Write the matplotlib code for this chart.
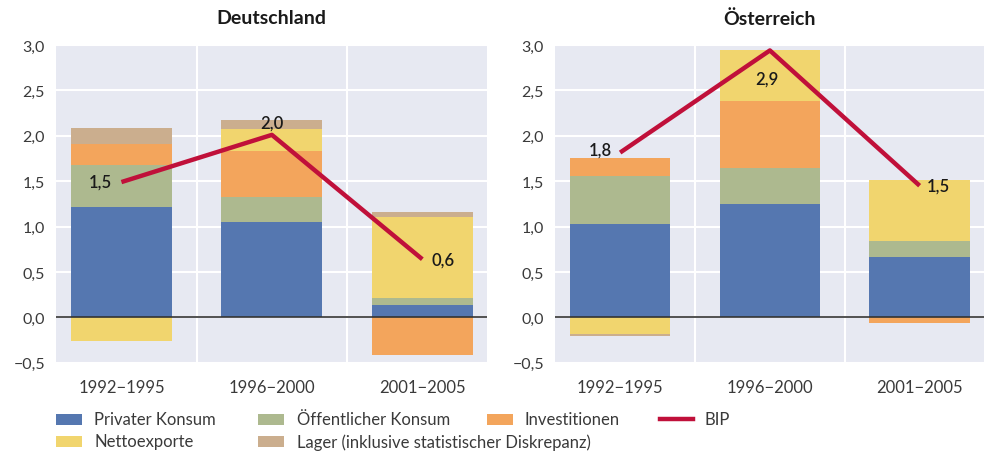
import matplotlib
matplotlib.use("Agg")
import matplotlib.pyplot as plt
import numpy as np
from matplotlib.patches import Rectangle
from matplotlib.lines import Line2D

plt.rcParams['font.family'] = ['Lato', 'DejaVu Sans']

categories = ["1992−1995", "1996−2000", "2001−2005"]
components = ["Privater Konsum", "Öffentlicher Konsum", "Investitionen",
              "Nettoexporte", "Lager (inklusive statistischer Diskrepanz)"]
colors = ["#5577B0", "#ADB98F", "#F3A55C", "#F1D56E", "#CBAE8E"]

de_privat = [1.21, 1.05, 0.14]
de_oeff = [0.47, 0.28, 0.07]
de_invest = [0.23, 0.50, -0.42]
de_netto = [-0.26, 0.25, 0.89]
de_lager = [0.18, 0.09, 0.055]
de_bip = [1.49, 2.01, 0.64]
de_bip_labels = ["1,5", "2,0", "0,6"]

at_privat = [1.03, 1.25, 0.66]
at_oeff = [0.53, 0.40, 0.18]
at_invest = [0.19, 0.73, -0.06]
at_netto = [-0.18, 0.57, 0.67]
at_lager = [-0.03, 0.0, 0.0]
at_bip = [1.815, 2.94, 1.45]
at_bip_labels = ["1,8", "2,9", "1,5"]

yticks = [-0.5, 0.0, 0.5, 1.0, 1.5, 2.0, 2.5, 3.0]
bg = "#E7E9F2"
red = "#C0103A"
txt = "#3a3a3a"

W, H = 984, 452
fig = plt.figure(figsize=(W/100, H/100), dpi=100)
ax1 = fig.add_axes([56/W, 1-363.7/H, (487-56)/W, (363.7-46)/H])
ax2 = fig.add_axes([555/W, 1-363.7/H, (984-555)/W, (363.7-46)/H])


def draw(ax, series, bip, labels, offsets, title):
    ax.set_facecolor(bg)
    x = np.arange(len(categories))
    pos = np.zeros(len(categories))
    neg = np.zeros(len(categories))
    for vals, c in zip(series, colors):
        vals = np.array(vals, dtype=float)
        bottoms = np.where(vals >= 0, pos, neg)
        ax.bar(x, vals, width=0.67, bottom=bottoms, color=c, zorder=2, linewidth=0)
        pos = pos + np.where(vals >= 0, vals, 0)
        neg = neg + np.where(vals < 0, vals, 0)
    ax.set_ylim(-0.5, 3.0)
    ax.set_xlim(-0.435, 2.43)
    for yv in yticks:
        ax.axhline(yv, color="white", lw=1.5, zorder=1)
    for xv in [0.5, 1.5]:
        ax.axvline(xv, color="white", lw=1.5, zorder=1)
    ax.axhline(0, color="#333333", lw=1.2, zorder=3)
    ax.plot(x, bip, color=red, lw=3.2, zorder=4, solid_capstyle="butt")
    for xi, yi, lab, (dx, dy, ha, va) in zip(x, bip, labels, offsets):
        ax.text(xi + dx, yi + dy, lab, ha=ha, va=va, fontsize=12,
                fontweight="semibold", color="#1a1a1a", zorder=5)
    ax.set_yticks(yticks)
    ax.set_yticklabels([("−" if v < 0 else "") + f"{abs(v):.1f}".replace(".", ",") for v in yticks])
    ax.set_xticks(x)
    ax.set_xticklabels(categories)
    ax.tick_params(axis="y", length=0, labelsize=11.5, labelcolor=txt, pad=8)
    ax.tick_params(axis="x", length=0, labelsize=12, labelcolor=txt, pad=12)
    for s in ax.spines.values():
        s.set_visible(False)
    ax.text(0.5, 1 + 27/317.7, title, transform=ax.transAxes, ha="center", va="center",
            fontsize=14, fontweight="bold", color="#1a1a1a")


draw(ax1, [de_privat, de_oeff, de_invest, de_netto, de_lager], de_bip, de_bip_labels,
     [(-0.06, 0.0, "right", "center"), (0.0, 0.05, "center", "bottom"),
      (0.06, 0.0, "left", "center")], "Deutschland")
draw(ax2, [at_privat, at_oeff, at_invest, at_netto, at_lager], at_bip, at_bip_labels,
     [(-0.053, 0.035, "right", "center"), (-0.02, -0.31, "center", "center"),
      (0.05, 0.0, "left", "center")], "Österreich")

# legend (manual layout)
legend_items = [
    ("patch", colors[0], components[0], 56, 94, 420),
    ("patch", colors[1], components[1], 258, 297, 420),
    ("patch", colors[2], components[2], 487, 525, 420),
    ("line", red, "BIP", 660, 705, 420),
    ("patch", colors[3], components[3], 56, 94, 442.5),
    ("patch", colors[4], components[4], 258, 297, 442.5),
]
for kind, col, lab, hx, tx, cy in legend_items:
    if kind == "patch":
        fig.add_artist(Rectangle((hx/W, 1-(cy+5.5)/H), 26/W, 11/H, transform=fig.transFigure,
                                 facecolor=col, edgecolor="none"))
    else:
        fig.add_artist(Line2D([hx/W, (hx+33)/W], [1-cy/H, 1-cy/H], transform=fig.transFigure,
                              color=col, lw=3.2))
    fig.text(tx/W, 1-cy/H, lab, ha="left", va="center", fontsize=12, color=txt)

fig.savefig("out.png", dpi=100)
